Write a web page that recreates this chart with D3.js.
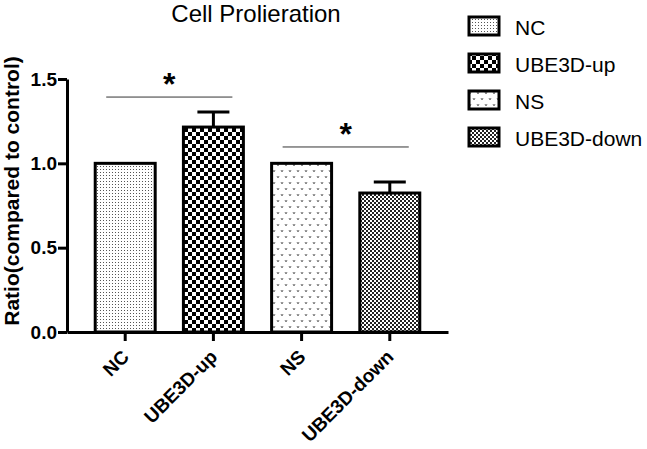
<!DOCTYPE html>
<html>
<head>
<meta charset="utf-8">
<script src="https://cdn.jsdelivr.net/npm/d3@7"></script>
<style>
  body { margin: 0; background: #fff; }
  svg { font-family: "Liberation Sans", Arial, Helvetica, sans-serif; }
</style>
</head>
<body>
<div id="chart"></div>
<script>
// data
const categories = ['NC', 'UBE3D-up', 'NS', 'UBE3D-down'];
const values = [1.0, 1.215, 1.0, 0.824];
const errors = [0, 0.09, 0, 0.065];
const yTicks = [0.0, 0.5, 1.0, 1.5];
const patternIds = ['pNC', 'pUp', 'pNS', 'pDown'];
// significance brackets: [fromIndex, toIndex, level]
const sigPairs = [[0, 1, 1.393], [2, 3, 1.097]];

const width = 647, height = 449;

const svg = d3.select('#chart').append('svg')
  .attr('width', width)
  .attr('height', height);

// ###
// PATTERNS
// ###
const defs = svg.append('defs');

// fine dots
const p1 = defs.append('pattern').attr('id', 'pNC')
  .attr('patternUnits', 'userSpaceOnUse').attr('width', 3).attr('height', 3);
p1.append('rect').attr('width', 3).attr('height', 3).attr('fill', '#fff');
p1.append('rect').attr('x', 1).attr('y', 1).attr('width', 1).attr('height', 1).attr('fill', '#555');

// coarse checker
const p2 = defs.append('pattern').attr('id', 'pUp')
  .attr('patternUnits', 'userSpaceOnUse').attr('width', 8).attr('height', 8);
p2.append('rect').attr('width', 8).attr('height', 8).attr('fill', '#fff');
p2.append('rect').attr('width', 4).attr('height', 4).attr('fill', '#000');
p2.append('rect').attr('x', 4).attr('y', 4).attr('width', 4).attr('height', 4).attr('fill', '#000');

// little v marks
const p3 = defs.append('pattern').attr('id', 'pNS')
  .attr('patternUnits', 'userSpaceOnUse').attr('width', 8).attr('height', 12);
p3.append('rect').attr('width', 8).attr('height', 12).attr('fill', '#fff');
p3.append('path').attr('d', 'M1,2 L2,4 L3,2 M5,8 L6,10 L7,8')
  .attr('fill', 'none').attr('stroke', '#666').attr('stroke-width', 0.9);

// fine checker
const p4 = defs.append('pattern').attr('id', 'pDown')
  .attr('patternUnits', 'userSpaceOnUse').attr('width', 4).attr('height', 4);
p4.append('rect').attr('width', 4).attr('height', 4).attr('fill', '#fff');
p4.append('rect').attr('width', 2).attr('height', 2).attr('fill', '#222');
p4.append('rect').attr('x', 2).attr('y', 2).attr('width', 2).attr('height', 2).attr('fill', '#222');

// ###
// SCALES
// ###
const x = d3.scaleBand()
  .domain(categories)
  .range([67, 448])
  .paddingInner(0.32)
  .paddingOuter(0.32);

const y = d3.scaleLinear()
  .domain([0, 1.5])
  .range([332, 79]);

// ###
// AXES
// ###
const yAxis = svg.append('g')
  .attr('transform', 'translate(67,0)')
  .call(d3.axisLeft(y).tickValues(yTicks).tickFormat(d3.format('.1f')).tickSize(9).tickSizeOuter(0));

yAxis.select('.domain').attr('stroke-width', 3).attr('stroke', '#000');
yAxis.selectAll('.tick line').attr('stroke-width', 3).attr('stroke', '#000');
yAxis.selectAll('.tick text')
  .attr('x', -10)
  .style('font-size', '19px')
  .style('font-weight', 'bold')
  .attr('fill', '#000');

const xAxis = svg.append('g')
  .attr('transform', `translate(0,${y(0)})`)
  .call(d3.axisBottom(x).tickSize(9).tickSizeOuter(0));

xAxis.select('.domain').attr('stroke-width', 3).attr('stroke', '#000');
xAxis.selectAll('.tick line').attr('stroke-width', 3).attr('stroke', '#000');
xAxis.selectAll('.tick text')
  .style('font-size', '19px')
  .style('font-weight', 'bold')
  .attr('fill', '#000')
  .attr('text-anchor', 'end')
  .attr('dy', 0)
  .attr('y', 0)
  .attr('transform', 'translate(5,26) rotate(-45)');

// ###
// BARS
// ###
svg.append('g').selectAll('rect')
  .data(categories)
  .join('rect')
  .attr('x', d => x(d))
  .attr('y', (d, i) => y(values[i]))
  .attr('width', x.bandwidth())
  .attr('height', (d, i) => y(0) - y(values[i]))
  .attr('fill', (d, i) => `url(#${patternIds[i]})`)
  .attr('stroke', '#000')
  .attr('stroke-width', 3);

// error bars (upper only)
const errG = svg.append('g');
categories.forEach((c, i) => {
  if (!errors[i]) return;
  const cx = x(c) + x.bandwidth() / 2;
  errG.append('line')
    .attr('x1', cx).attr('x2', cx)
    .attr('y1', y(values[i])).attr('y2', y(values[i] + errors[i]))
    .attr('stroke', '#000').attr('stroke-width', 3);
  errG.append('line')
    .attr('x1', cx - 16).attr('x2', cx + 16)
    .attr('y1', y(values[i] + errors[i])).attr('y2', y(values[i] + errors[i]))
    .attr('stroke', '#000').attr('stroke-width', 3);
});

// significance lines and stars
const sigG = svg.append('g');
sigPairs.forEach(([a, b, lvl]) => {
  const xa = x(categories[a]) + 11;
  const xb = x(categories[b]) + x.bandwidth() - 11;
  sigG.append('line')
    .attr('x1', xa).attr('x2', xb)
    .attr('y1', y(lvl)).attr('y2', y(lvl))
    .attr('stroke', '#333').attr('stroke-width', 1);
  sigG.append('text')
    .attr('x', (xa + xb) / 2)
    .attr('y', y(lvl) - 2)
    .attr('text-anchor', 'middle')
    .style('font-size', '32px')
    .style('font-weight', 'bold')
    .text('*');
});

// ###
// TITLES
// ###
svg.append('text')
  .attr('x', 256)
  .attr('y', 22)
  .attr('text-anchor', 'middle')
  .style('font-size', '24px')
  .text('Cell Prolieration');

svg.append('text')
  .attr('transform', 'translate(19,191) rotate(-90)')
  .attr('text-anchor', 'middle')
  .style('font-size', '21px')
  .style('font-weight', 'bold')
  .text('Ratio(compared to control)');

// ###
// LEGEND
// ###
const legend = svg.append('g');
categories.forEach((c, i) => {
  const ly = 17 + i * 37;
  legend.append('rect')
    .attr('x', 469).attr('y', ly)
    .attr('width', 30).attr('height', 18)
    .attr('fill', `url(#${patternIds[i]})`)
    .attr('stroke', '#000').attr('stroke-width', 3);
  legend.append('text')
    .attr('x', 515).attr('y', ly + 18)
    .style('font-size', '21px')
    .text(c);
});
</script>
</body>
</html>
